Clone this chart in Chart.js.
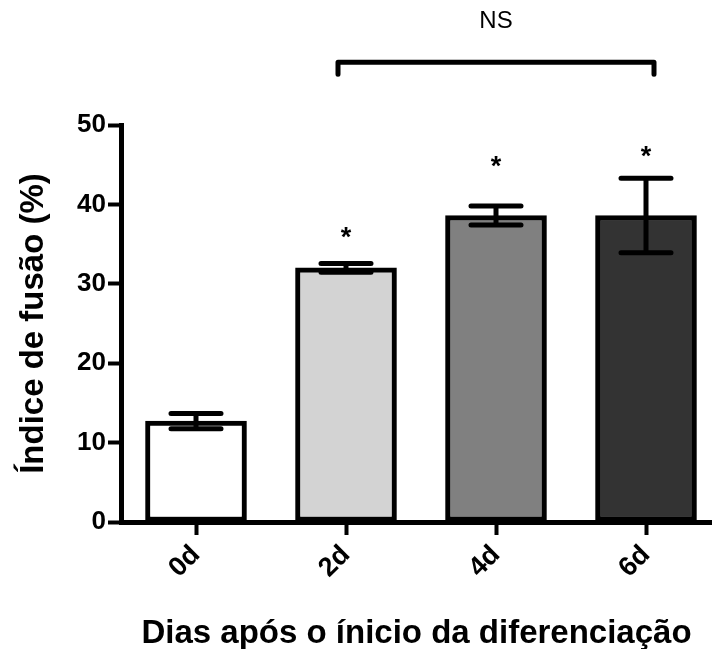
<!DOCTYPE html>
<html>
<head>
<meta charset="utf-8">
<script src="https://cdn.jsdelivr.net/npm/chart.js@4"></script>
<style>
  html, body { margin: 0; padding: 0; background: #fff; overflow: hidden; }
  #wrap { width: 712px; height: 649px; position: relative; }
</style>
</head>
<body>
<div id="wrap"><canvas id="chart"></canvas></div>
<script>
// Fusion index (%) per day after the start of differentiation, mean ± SEM
const categories = ['0d', '2d', '4d', '6d'];
const fusionIndex = [12.7, 32.0, 38.6, 38.6];
const fusionSem = [0.95, 0.55, 1.2, 4.7];
const significance = ['', '*', '*', '*'];
const yTickValues = [0, 10, 20, 30, 40, 50];
const comparison = { from: 1, to: 3, label: 'NS' };

const FONT = "'Liberation Sans', Arial, Helvetica, sans-serif";

// Error bars, significance stars and the comparison bracket
const annotate = {
  id: 'annotate',
  afterDatasetsDraw(chart, args, opts) {
    const ctx = chart.ctx;
    const xs = chart.scales.x, ys = chart.scales.y;
    ctx.save();
    ctx.strokeStyle = '#000';
    ctx.fillStyle = '#000';
    ctx.lineWidth = opts.lineWidth;
    ctx.lineCap = 'round';
    fusionIndex.forEach((v, i) => {
      const cx = xs.getPixelForValue(i);
      const hi = ys.getPixelForValue(v + fusionSem[i]);
      const lo = ys.getPixelForValue(v - fusionSem[i]);
      const half = opts.capWidth / 2;
      ctx.beginPath();
      ctx.moveTo(cx, hi); ctx.lineTo(cx, lo);
      ctx.moveTo(cx - half, hi); ctx.lineTo(cx + half, hi);
      ctx.moveTo(cx - half, lo); ctx.lineTo(cx + half, lo);
      ctx.stroke();
      if (significance[i]) {
        ctx.font = opts.starFont;
        ctx.textAlign = 'center';
        ctx.textBaseline = 'alphabetic';
        const m = ctx.measureText(significance[i]);
        const mid = (m.actualBoundingBoxAscent - m.actualBoundingBoxDescent) / 2;
        const sy = ys.getPixelForValue(opts.starLevels[i]);
        ctx.fillText(significance[i], cx, sy + mid);
      }
    });
    // bracket between compared groups
    const x1 = xs.getPixelForValue(comparison.from) - opts.bracketOverhang;
    const x2 = xs.getPixelForValue(comparison.to) + opts.bracketOverhang;
    const by = ys.getPixelForValue(opts.bracketLevel);
    const bEnd = ys.getPixelForValue(opts.bracketLevel - opts.bracketDrop);
    ctx.lineJoin = 'round';
    ctx.beginPath();
    ctx.moveTo(x1, bEnd); ctx.lineTo(x1, by); ctx.lineTo(x2, by); ctx.lineTo(x2, bEnd);
    ctx.stroke();
    ctx.font = opts.labelFont;
    ctx.textAlign = 'center';
    ctx.textBaseline = 'middle';
    ctx.fillText(comparison.label, (x1 + x2) / 2, ys.getPixelForValue(opts.labelLevel));
    ctx.restore();
  }
};

new Chart(document.getElementById('chart'), {
  type: 'bar',
  data: {
    datasets: [{
      data: categories.map((c, i) => ({ x: i, y: fusionIndex[i] })),
      backgroundColor: ['#ffffff', '#d3d3d3', '#808080', '#333333'],
      borderColor: '#000',
      borderWidth: 5,
      borderSkipped: false,
      barThickness: 101
    }]
  },
  options: {
    responsive: true,
    maintainAspectRatio: false,
    animation: false,
    layout: { padding: { top: 125, right: 0, bottom: 0, left: 0 } },
    plugins: {
      legend: { display: false },
      tooltip: { enabled: false },
      annotate: {
        lineWidth: 5,
        capWidth: 50,
        starFont: "bold 27px " + FONT,
        starLevels: [null, 36.4, 45.4, 46.6],
        bracketLevel: 57.9,
        bracketDrop: 1.5,
        bracketOverhang: 8,
        labelLevel: 63,
        labelFont: "24px " + FONT
      }
    },
    scales: {
      x: {
        type: 'linear',
        offset: false,
        min: -0.5,
        max: 3.44,
        afterBuildTicks: (s) => { s.ticks = categories.map((c, i) => ({ value: i })); },
        afterFit: (s) => { s.height = 127; },
        grid: { display: true, offset: false, drawOnChartArea: false, drawTicks: true, tickLength: 13, tickWidth: 4, tickColor: '#000' },
        border: { display: true, width: 5, color: '#000' },
        ticks: {
          autoSkip: false,
          minRotation: 45,
          maxRotation: 45,
          padding: 4,
          color: '#000',
          font: { family: FONT, size: 27, weight: 'bold' },
          callback: (v) => categories[v] ?? ''
        },
        title: {
          display: true,
          text: 'Dias após o ínicio da diferenciação',
          color: '#000',
          font: { family: FONT, size: 33, weight: 'bold', lineHeight: 1 },
          padding: { top: 0, bottom: -1 }
        }
      },
      y: {
        min: 0,
        max: 50,
        afterBuildTicks: (s) => { s.ticks = yTickValues.map(v => ({ value: v })); },
        afterFit: (s) => { s.width = 121; },
        grid: { display: true, drawOnChartArea: false, drawTicks: true, tickLength: 13, tickWidth: 4, tickColor: '#000' },
        border: { display: true, width: 5, color: '#000' },
        ticks: {
          padding: 2,
          color: '#000',
          font: { family: FONT, size: 26, weight: 'bold' }
        },
        title: {
          display: true,
          text: 'Índice de fusão (%)',
          color: '#000',
          font: { family: FONT, size: 33, weight: 'bold', lineHeight: 1 },
          padding: { top: 17, bottom: 0 }
        }
      }
    }
  },
  plugins: [annotate]
});
</script>
</body>
</html>
